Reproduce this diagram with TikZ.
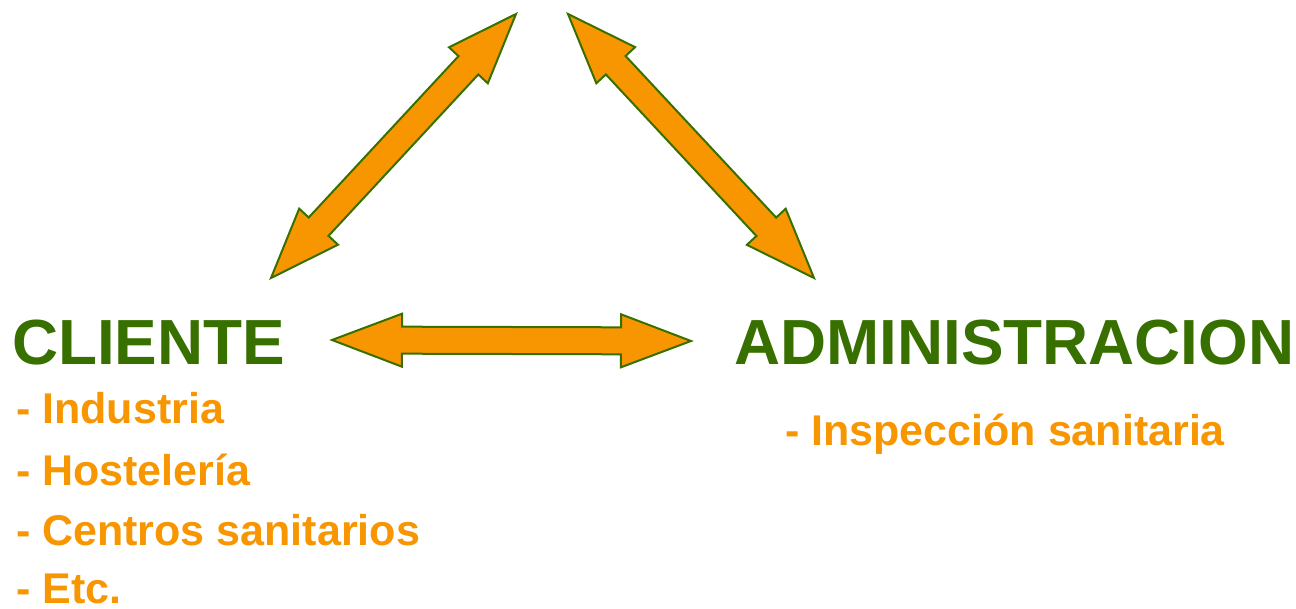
\documentclass[tikz,border=0pt]{standalone}
\usepackage{fontspec}
\setmainfont{Liberation Sans}
\usetikzlibrary{calc}
\definecolor{leafgreen}{RGB}{56,112,0}
\definecolor{sunorange}{RGB}{247,150,0}
\tikzset{
  blockfill/.style={draw=leafgreen, fill=sunorange, line width=2pt, line join=miter},
  party/.style={text=leafgreen, font=\bfseries\fontsize{63.8}{70}\selectfont, inner sep=0pt, anchor=base west},
  member/.style={text=sunorange, font=\bfseries\fontsize{43}{48}\selectfont, inner sep=0pt, anchor=base west}
}
% fat two-headed arrow between two named points
\newcommand{\blockarrow}[2]{%
  \coordinate (HeadA) at ($(#1)!70pt!(#2)$);
  \coordinate (HeadB) at ($(#2)!70pt!(#1)$);
  \draw[blockfill] (#1)
    -- ($(HeadA)!26.5pt!90:(#2)$) -- ($(HeadA)!13.5pt!90:(#2)$)
    -- ($(HeadB)!13.5pt!-90:(#1)$) -- ($(HeadB)!26.5pt!-90:(#1)$)
    -- (#2)
    -- ($(HeadB)!26.5pt!90:(#1)$) -- ($(HeadB)!13.5pt!90:(#1)$)
    -- ($(HeadA)!13.5pt!-90:(#2)$) -- ($(HeadA)!26.5pt!-90:(#2)$)
    -- cycle;}
\begin{document}
\begin{tikzpicture}[x=1pt,y=-1pt]
\useasboundingbox (0,0) rectangle (1296,609);
\coordinate (TipTopL) at (516,14);
\coordinate (TipTopR) at (568,14);
\coordinate (TipCliL) at (271,278);
\coordinate (TipAdmR) at (814,278);
\coordinate (TipCliH) at (332,340);
\coordinate (TipAdmH) at (691,341);
\node[party] (Cliente) at (12,365) {CLIENTE};
\node[party] (Admin) at (734,365) {ADMINISTRACION};
\node[member] (Industria) at (16,424) {- Industria};
\node[member] (Hosteleria) at (16,485) {- Hostelería};
\node[member] (Centros) at (16,545) {- Centros sanitarios};
\node[member] (Etc) at (16,603) {- Etc.};
\node[member] (Inspeccion) at (785,446) {- Inspección sanitaria};
\blockarrow{TipCliL}{TipTopL}
\blockarrow{TipTopR}{TipAdmR}
\blockarrow{TipCliH}{TipAdmH}
\end{tikzpicture}
\end{document}
